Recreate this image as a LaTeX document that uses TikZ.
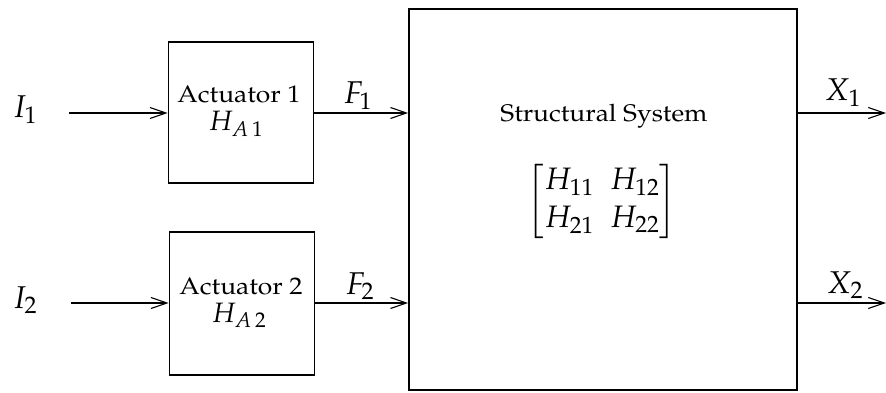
\documentclass[tikz,border=0pt]{standalone}
\usepackage{amsmath}
\usepackage{graphicx}
\usepackage[T1]{fontenc}
\usepackage{mathpazo}
\usetikzlibrary{arrows.meta}
\begin{document}
\begin{tikzpicture}[x=1pt,y=-1pt,
  blk/.style={draw,line width=1.7pt,minimum width=145pt,minimum height=141pt,inner sep=0pt},
  sig/.style={line width=1.4pt,-{Straight Barb[length=16pt,width=11pt,line width=1.1pt]}},
  lbl/.style={font=\fontsize{24}{28}\selectfont,inner sep=0pt,anchor=base},
  mlbl/.style={font=\fontsize{25}{28}\selectfont,inner sep=0pt,anchor=base,scale=1.12},
  mth/.style={font=\fontsize{25}{28}\selectfont,inner sep=0pt,scale=1.26},
  mtx/.style={font=\fontsize{25}{28}\selectfont,inner sep=0pt,scale=1.24},
]
\useasboundingbox (0,0) rectangle (886,393);
% blocks
\node[blk] (a1) at (241,112.5) {};
\node[blk, minimum height=143pt] (a2) at (242,303.5) {};
\node[blk, minimum width=388pt, minimum height=381pt] (ss) at (603,199.5) {};
% texts inside blocks
\node[lbl] (a1t) at (239,103) {\scalebox{1.1}[1]{Actuator 1}};
\node[mlbl] (a1h) at (236,131) {$H_{A\,1}$};
\node[lbl] (a2t) at (241,294) {\scalebox{1.1}[1]{Actuator 2}};
\node[mlbl] (a2h) at (239,322) {$H_{A\,2}$};
\node[lbl] (sst) at (604,122) {\scalebox{1.1}[1]{Structural System}};
\node[mtx] (ssm) at (602,201) {\renewcommand\arraystretch{1.08}\setlength\arraycolsep{6.5pt}$\begin{bmatrix} H_{11} & H_{12}\\ H_{21} & H_{22}\end{bmatrix}$};
% signal labels
\node[mth] (i1) at (25,110) {$I_1$};
\node[mth] (i2) at (25,300) {$I_2$};
\node[mth] (f1) at (358,96) {$F_1$};
\node[mth] (f2) at (360,286) {$F_2$};
\node[mth] (x1) at (843,93) {$X_1$};
\node[mth] (x2) at (845,285) {$X_2$};
% connector end points
\coordinate (i1s) at (69,113);
\coordinate (i2s) at (71,303);
\coordinate (x1e) at (886,113);
\coordinate (x2e) at (886,303);
% connectors
\draw[sig] (i1s) -- (i1s -| a1.west);
\draw[sig] (i2s) -- (i2s -| a2.west);
\draw[sig] (a1.east |- i1s) -- (ss.west |- i1s);
\draw[sig] (a2.east |- i2s) -- (ss.west |- i2s);
\draw[sig] (ss.east |- x1e) -- (x1e);
\draw[sig] (ss.east |- x2e) -- (x2e);
\end{tikzpicture}
\end{document}
